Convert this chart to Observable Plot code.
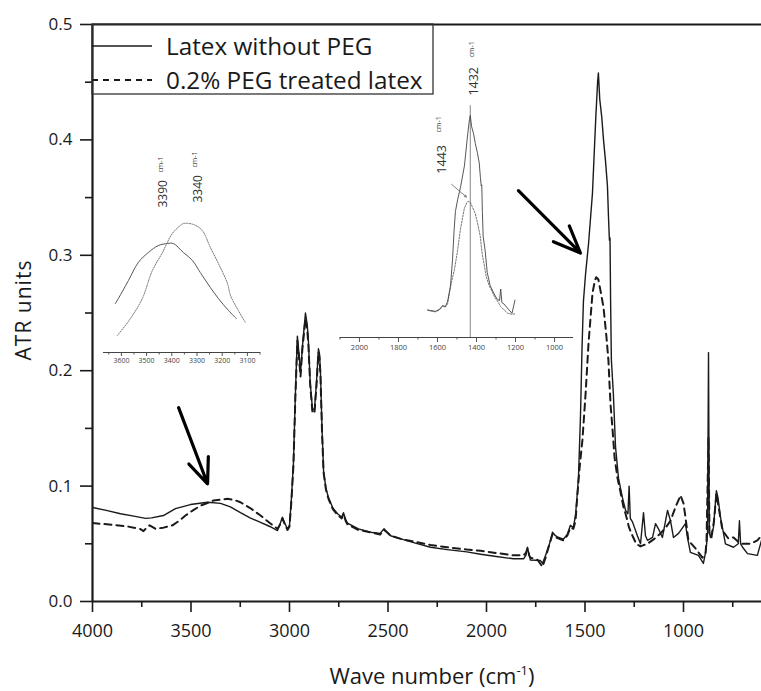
<!DOCTYPE html>
<html>
<head>
<meta charset="utf-8">
<script src="https://cdn.jsdelivr.net/npm/d3@7"></script>
<script src="https://cdn.jsdelivr.net/npm/@observablehq/plot@0.6"></script>
<style>
  body { margin: 0; background: #fff; }
  #chart { position: relative; width: 761px; height: 691px; overflow: hidden; font-family: "Open Sans", sans-serif; }
  #chart svg { position: absolute; max-width: none; }
</style>
</head>
<body>
<div id="chart"></div>
<script>
// ATR-FTIR spectra: [wave number (cm-1), absorbance (ATR units)]
const latexWithoutPEG = [
  [4000,0.0815],[3930,0.079],[3858,0.076],[3790,0.074],[3731,0.072],[3700,0.0725],[3640,0.0745],
  [3579,0.0805],[3503,0.084],[3416,0.086],[3350,0.085],[3300,0.082],[3249,0.077],[3200,0.0725],
  [3147,0.0685],[3100,0.065],[3061,0.0615],[3050,0.066],[3036,0.073],[3022,0.067],[3010,0.063],
  [3000,0.066],[2990,0.09],[2980,0.12],[2970,0.18],[2960,0.23],[2952,0.215],[2944,0.198],
  [2935,0.22],[2919,0.25],[2910,0.24],[2904,0.226],[2895,0.19],[2883,0.166],[2873,0.167],
  [2863,0.19],[2853,0.219],[2848,0.215],[2843,0.2],[2835,0.15],[2827,0.113],[2815,0.098],
  [2802,0.09],[2780,0.081],[2756,0.076],[2735,0.073],[2726,0.077],[2715,0.071],[2706,0.068],
  [2650,0.063],[2589,0.06],[2540,0.059],[2520,0.063],[2505,0.06],[2487,0.057],[2430,0.054],
  [2370,0.051],[2284,0.047],[2200,0.045],[2100,0.043],[2030,0.041],[1950,0.039],[1863,0.037],
  [1812,0.037],[1800,0.04],[1792,0.047],[1783,0.04],[1777,0.036],[1726,0.0355],[1716,0.033],
  [1700,0.04],[1680,0.05],[1665,0.06],[1650,0.057],[1640,0.056],[1610,0.054],[1590,0.058],
  [1574,0.066],[1559,0.064],[1548,0.075],[1538,0.096],[1533,0.108],[1523,0.16],[1515,0.22],
  [1508,0.26],[1497,0.284],[1482,0.31],[1462,0.354],[1445,0.42],[1436,0.45],[1432,0.458],
  [1425,0.435],[1415,0.42],[1406,0.40],[1396,0.382],[1386,0.36],[1380,0.33],[1376,0.313],
  [1373,0.315],[1370,0.26],[1366,0.209],[1356,0.18],[1345,0.134],[1330,0.107],[1310,0.09],
  [1294,0.079],[1282,0.076],[1276,0.1],[1270,0.072],[1259,0.069],[1234,0.057],[1218,0.05],
  [1203,0.077],[1193,0.057],[1183,0.053],[1157,0.0555],[1142,0.0675],[1127,0.063],[1107,0.0555],
  [1081,0.079],[1066,0.07],[1051,0.0555],[1025,0.059],[990,0.0675],[980,0.0555],[965,0.0425],
  [924,0.040],[899,0.033],[885,0.045],[878,0.059],[873,0.2157],[869,0.06],[863,0.0555],
  [848,0.064],[833,0.096],[825,0.09],[812,0.073],[787,0.05],[746,0.047],[722,0.05],[716,0.07],
  [710,0.05],[700,0.047],[675,0.0415],[625,0.040],[604,0.053]
];

const latexPEGTreated = [
  [4000,0.068],[3900,0.0665],[3822,0.065],[3760,0.063],[3741,0.061],[3725,0.064],[3710,0.066],
  [3680,0.063],[3640,0.064],[3594,0.066],[3560,0.07],[3528,0.0745],[3490,0.079],[3452,0.083],
  [3386,0.0875],[3315,0.089],[3280,0.088],[3249,0.086],[3200,0.081],[3147,0.0745],[3100,0.068],
  [3061,0.063],[3050,0.066],[3036,0.072],[3022,0.066],[3010,0.062],[3000,0.065],[2990,0.088],
  [2980,0.118],[2970,0.178],[2960,0.226],[2952,0.212],[2944,0.195],[2935,0.218],[2919,0.245],
  [2910,0.236],[2904,0.222],[2895,0.188],[2883,0.163],[2873,0.164],[2863,0.187],[2853,0.216],
  [2848,0.212],[2843,0.197],[2835,0.148],[2827,0.112],[2815,0.097],[2802,0.089],[2780,0.08],
  [2756,0.075],[2735,0.072],[2726,0.076],[2715,0.07],[2706,0.067],[2650,0.062],[2589,0.06],
  [2540,0.058],[2520,0.062],[2505,0.06],[2487,0.057],[2430,0.054],[2370,0.052],[2284,0.049],
  [2200,0.047],[2100,0.045],[2030,0.044],[1950,0.042],[1863,0.040],[1812,0.040],[1800,0.042],
  [1792,0.046],[1783,0.04],[1777,0.038],[1740,0.036],[1716,0.03],[1700,0.038],[1680,0.05],
  [1665,0.058],[1650,0.056],[1640,0.055],[1610,0.053],[1590,0.057],[1574,0.064],[1559,0.063],
  [1548,0.07],[1538,0.0935],[1528,0.115],[1513,0.14],[1497,0.18],[1482,0.224],[1462,0.267],
  [1450,0.278],[1443,0.281],[1432,0.279],[1422,0.27],[1406,0.255],[1391,0.229],[1381,0.209],
  [1376,0.19],[1370,0.17],[1361,0.151],[1350,0.125],[1335,0.107],[1320,0.095],[1305,0.082],
  [1294,0.076],[1276,0.064],[1259,0.057],[1240,0.05],[1218,0.0477],[1200,0.049],[1183,0.050],
  [1150,0.054],[1117,0.059],[1090,0.064],[1066,0.070],[1041,0.0815],[1015,0.092],[1000,0.085],
  [990,0.073],[975,0.053],[939,0.046],[904,0.038],[888,0.042],[883,0.053],[873,0.142],[868,0.058],
  [858,0.0555],[845,0.07],[833,0.0935],[820,0.08],[802,0.0615],[772,0.0545],[746,0.0555],
  [711,0.050],[660,0.050],[625,0.053],[604,0.057]
];

// O-H stretching band (relative intensity) for the left inset
const ohBandWithoutPEG = [
  [3624,0.049],[3612,0.054],[3572,0.072],[3533,0.090],[3493,0.100],[3453,0.107],[3417,0.109],
  [3394,0.109],[3354,0.100],[3318,0.092],[3287,0.080],[3247,0.065],[3215,0.054],[3175,0.042],[3144,0.034]
];
const ohBandPEGTreated = [
  [3616,0.017],[3564,0.034],[3517,0.054],[3477,0.082],[3437,0.100],[3398,0.119],[3366,0.127],
  [3354,0.129],[3314,0.128],[3279,0.122],[3247,0.105],[3215,0.089],[3179,0.069],[3167,0.057],
  [3136,0.042],[3108,0.030]
];

const legendLabels = ["Latex without PEG", "0.2% PEG treated latex"];
const xMajorTicks = [4000, 3500, 3000, 2500, 2000, 1500, 1000];
const xMinorTicks = [3750, 3250, 2750, 2250, 1750, 1250, 750];
const yMajorTicks = [0, 0.1, 0.2, 0.3, 0.4, 0.5];
const yMinorTicks = [0.05, 0.15, 0.25, 0.35, 0.45];
const inset1Ticks = [3600, 3500, 3400, 3300, 3200, 3100];
const inset1MinorTicks = [3650, 3550, 3450, 3350, 3250, 3150, 3050];
const inset2Ticks = [2000, 1800, 1600, 1400, 1200, 1000];
const inset2MinorTicks = [2100, 1900, 1700, 1500, 1300, 1100];

// peak labels: wave number, label start height, superscript start height (inset units), offset
const ohPeakLabels = [
  {w: 3390, y: 0.145, ySup: 0.180, dx: -11},
  {w: 3340, y: 0.150, ySup: 0.185, dx: 11}
];
const chPeakLabels = [
  {w: 1432, y: 0.499, ySup: 0.578, dx: 4},
  {w: 1443, y: 0.338, ySup: 0.423, dx: -26}
];
const peakMarker = [1432];

// annotation arrows in data coordinates
const bandArrows = [
  {x1: 3563, y1: 0.168, x2: 3416, y2: 0.102},
  {x1: 1838, y1: 0.356, x2: 1523, y2: 0.302}
];
const insetPointer = [{x1: 1528, y1: 0.316, x2: 1452, y2: 0.290}];

const toObj = arr => arr.map(([w, a]) => ({w, a}));
const solid = toObj(latexWithoutPEG);
const dashed = toObj(latexPEGTreated);

const chart = document.getElementById("chart");
const ink = "#1a1a1a";
const font = "Open Sans, sans-serif";

// rotated peak label with its superscript unit
function peakLabelMarks(labels, size) {
  return labels.flatMap(l => [
    Plot.text([l], {x: "w", y: "y", dx: l.dx, text: d => String(d.w), rotate: -90, textAnchor: "start", fontSize: size, fill: "#333"}),
    Plot.text([l], {x: "w", y: "ySup", dx: l.dx - 3, text: () => "cm-1", rotate: -90, textAnchor: "start", fontSize: 7, fill: "#444"})
  ]);
}

// main spectrum
const main = Plot.plot({
  width: 761,
  height: 691,
  marginLeft: 92,
  marginRight: 0,
  marginTop: 24,
  marginBottom: 90,
  x: {domain: [4000, 604], label: null},
  y: {domain: [0, 0.5], label: null},
  style: {fontFamily: font, color: ink, background: "transparent", overflow: "visible"},
  marks: [
    Plot.axisX(xMinorTicks, {tickSize: 6, text: null, strokeWidth: 1.6}),
    Plot.axisX(xMajorTicks, {tickSize: 11, tickPadding: 12, fontSize: 18, strokeWidth: 1.6, tickFormat: d => String(d)}),
    Plot.axisY(yMinorTicks, {tickSize: 7, text: null, strokeWidth: 1.6}),
    Plot.axisY(yMajorTicks, {tickSize: 12, tickPadding: 8, fontSize: 17, strokeWidth: 1.6, tickFormat: d3.format(".1f")}),
    Plot.ruleY([0], {stroke: ink, strokeWidth: 2.2}),
    Plot.ruleY([0.5], {stroke: ink, strokeWidth: 2.2}),
    Plot.ruleX([4000], {stroke: ink, strokeWidth: 2.2}),
    Plot.line(dashed, {x: "w", y: "a", stroke: ink, strokeWidth: 2, strokeDasharray: "7,5", clip: true}),
    Plot.line(solid, {x: "w", y: "a", stroke: ink, strokeWidth: 1.4, clip: true}),
    Plot.arrow(bandArrows, {x1: "x1", y1: "y1", x2: "x2", y2: "y2", stroke: "#000", strokeWidth: 3.2, headLength: 14, headAngle: 45})
  ]
});
main.style.left = "0px";
main.style.top = "0px";
chart.appendChild(main);

// legend box, axis titles
const svg = d3.select(main);
const lg = svg.append("g").attr("text-anchor", "start");
lg.append("rect").attr("x", 92).attr("y", 24).attr("width", 341).attr("height", 70)
  .attr("fill", "none").attr("stroke", "#333").attr("stroke-width", 1.3);
legendLabels.forEach((label, i) => {
  const y = 46 + i * 34;
  lg.append("line").attr("x1", 92).attr("x2", 152).attr("y1", y).attr("y2", y)
    .attr("stroke", ink).attr("stroke-width", i ? 2 : 1.3).attr("stroke-dasharray", i ? "6,5" : null);
  lg.append("text").attr("x", 166).attr("y", y + 9).attr("font-size", 24.3)
    .attr("fill", ink).attr("font-family", font).attr("text-anchor", "start").text(label);
});
const xt = svg.append("text").attr("x", 432).attr("y", 684).attr("text-anchor", "middle")
  .attr("font-size", 22).attr("fill", ink).attr("font-family", font);
xt.append("tspan").text("Wave number (cm");
xt.append("tspan").attr("font-size", 13).attr("dy", -9).text("-1");
xt.append("tspan").attr("dy", 9).text(")");
svg.append("text").attr("transform", "translate(31,310) rotate(-90)").attr("text-anchor", "middle")
  .attr("font-size", 21).attr("letter-spacing", 1).attr("fill", ink)
  .attr("font-family", font).text("ATR units");

// inset: O-H band
const insetStyle = {fontFamily: font, color: "#444", background: "transparent", overflow: "visible"};
const inset1 = Plot.plot({
  width: 157, height: 222,
  marginLeft: 0, marginRight: 0, marginTop: 0, marginBottom: 20,
  x: {domain: [3671, 3048], label: null},
  y: {domain: [0, 0.202], label: null, axis: null},
  style: insetStyle,
  marks: [
    Plot.axisX(inset1MinorTicks, {tickSize: 2.5, text: null, stroke: "#555"}),
    Plot.axisX(inset1Ticks, {tickSize: 4, tickPadding: 2, fontSize: 7, stroke: "#555", fill: "#444", tickFormat: d => String(d)}),
    Plot.ruleY([0], {stroke: "#444", strokeWidth: 1}),
    Plot.line(toObj(ohBandWithoutPEG), {x: "w", y: "a", stroke: "#444", strokeWidth: 0.9, curve: "catmull-rom"}),
    Plot.line(toObj(ohBandPEGTreated), {x: "w", y: "a", stroke: "#666", strokeWidth: 0.9, strokeDasharray: "1.2,1.3", curve: "catmull-rom"}),
    ...peakLabelMarks(ohPeakLabels, 12)
  ]
});
inset1.style.left = "103px";
inset1.style.top = "150px";
chart.appendChild(inset1);

// inset: C-H bending band, same spectra on an expanded scale
const chRange = d => d.w <= 1650 && d.w >= 1196;
const inset2 = Plot.plot({
  width: 233, height: 322,
  marginLeft: 0, marginRight: 0, marginTop: 0, marginBottom: 20,
  x: {domain: [2097, 903], label: null},
  y: {domain: [0, 0.623], label: null, axis: null},
  style: insetStyle,
  marks: [
    Plot.axisX(inset2MinorTicks, {tickSize: 2.5, text: null, stroke: "#555"}),
    Plot.axisX(inset2Ticks, {tickSize: 5, tickPadding: 2, fontSize: 7.5, stroke: "#555", fill: "#444", tickFormat: d => String(d)}),
    Plot.ruleY([0], {stroke: "#444", strokeWidth: 1}),
    Plot.ruleX(peakMarker, {y1: 0, y2: 0.478, stroke: "#777", strokeWidth: 0.9}),
    Plot.line(dashed.filter(chRange), {x: "w", y: "a", stroke: "#666", strokeWidth: 0.9, strokeDasharray: "1.8,1.4"}),
    Plot.line(solid.filter(chRange), {x: "w", y: "a", stroke: "#444", strokeWidth: 0.9}),
    Plot.arrow(insetPointer, {x1: "x1", y1: "y1", x2: "x2", y2: "y2", stroke: "#666", strokeWidth: 0.8, headLength: 4}),
    ...peakLabelMarks(chPeakLabels, 12.5)
  ]
});
inset2.style.left = "340px";
inset2.style.top = "35px";
chart.appendChild(inset2);
</script>
</body>
</html>
